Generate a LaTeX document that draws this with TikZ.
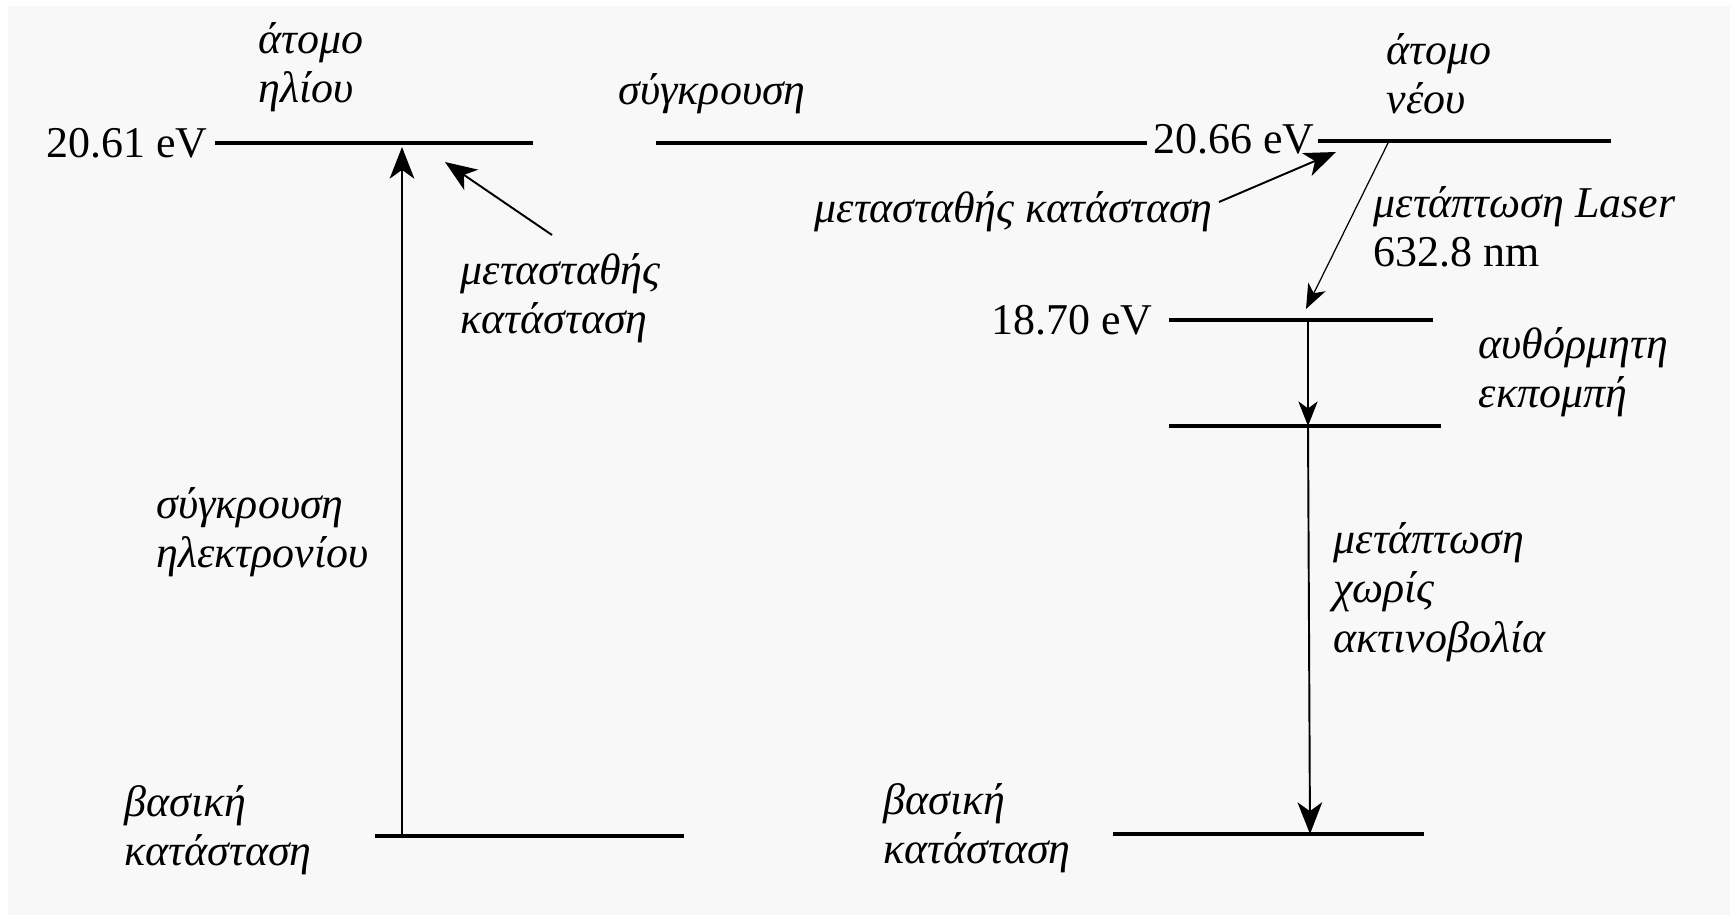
\documentclass[tikz,border=0pt]{standalone}
\usepackage{fontspec}
\setmainfont{Liberation Serif}
\usetikzlibrary{arrows.meta}
\definecolor{paper}{RGB}{248,248,248}

\begin{document}
\begin{tikzpicture}[x=0.01cm,y=-0.01cm,
  level/.style={line width=1.2pt},
  trans/.style={line width=0.55pt,-{Stealth[length=9pt,width=7pt,inset=2.5pt]}},
  thintrans/.style={line width=0.35pt,-{Stealth[length=7pt,width=5.5pt,inset=2pt]}},
  lbl/.style={font=\fontsize{12.5}{14}\selectfont\itshape,align=left,inner sep=0pt,anchor=west},
  ev/.style={font=\fontsize{12.5}{14}\selectfont,inner sep=0pt,anchor=east}]
\fill[white] (0,0) rectangle (1730,915);
\fill[paper] (8,6) rectangle (1730,915);

\node[lbl] (heatom) at (258,67) {άτομο\\ηλίου};
\node[lbl] (coll) at (618,94) {σύγκρουση};
\node[lbl] (neatom) at (1386,74) {άτομο\\νέου};
\node[ev] (e2061) at (208,143) {20.61 eV};
\node[ev] (e2066) at (1315,139) {20.66 eV};
\node[ev] (e1870) at (1153,320) {18.70 eV};
\node[lbl] (metaL) at (460,298) {μετασταθής\\κατάσταση};
\node[lbl] (metaR) at (814,212) {μετασταθής κατάσταση};
\node[lbl] (laser) at (1373,227) {μετάπτωση Laser\\\upshape 632.8 nm};
\node[lbl] (spont) at (1478,372) {αυθόρμητη\\εκπομπή};
\node[lbl] (eimpact) at (156,532) {σύγκρουση\\ηλεκτρονίου};
\node[lbl] (nonrad) at (1333,592) {μετάπτωση\\χωρίς\\ακτινοβολία};
\node[lbl] (groundL) at (124,830) {βασική\\κατάσταση};
\node[lbl] (groundR) at (883,828) {βασική\\κατάσταση};

\draw[level] (215,143) -- (533,143);
\draw[level] (656,143) -- (1147,143);
\draw[level] (1318,141) -- (1611,141);
\draw[level] (375,836) -- (684,836);
\draw[level] (1169,320) -- (1433,320);
\draw[level] (1169,426) -- (1441,426);
\draw[level] (1113,834) -- (1424,834);

\coordinate (he0) at (402,836);
\coordinate (he1) at (402,147);
\coordinate (mLtail) at (552,235);
\coordinate (mLtip) at (445,162);
\coordinate (mRtail) at (1219,202);
\coordinate (mRtip) at (1336,152);
\coordinate (ne3) at (1388,143);
\coordinate (ne2) at (1306,309);
\coordinate (ne2b) at (1308,320);
\coordinate (ne1) at (1308,426);
\coordinate (ne0) at (1310,834);

\draw[trans] (he0) -- (he1);
\draw[trans] (mLtail) -- (mLtip);
\draw[trans] (mRtail) -- (mRtip);
\draw[thintrans] (ne3) -- (ne2);
\draw[thintrans] (ne2b) -- (ne1);
\draw[trans] (ne1) -- (ne0);
\end{tikzpicture}
\end{document}
